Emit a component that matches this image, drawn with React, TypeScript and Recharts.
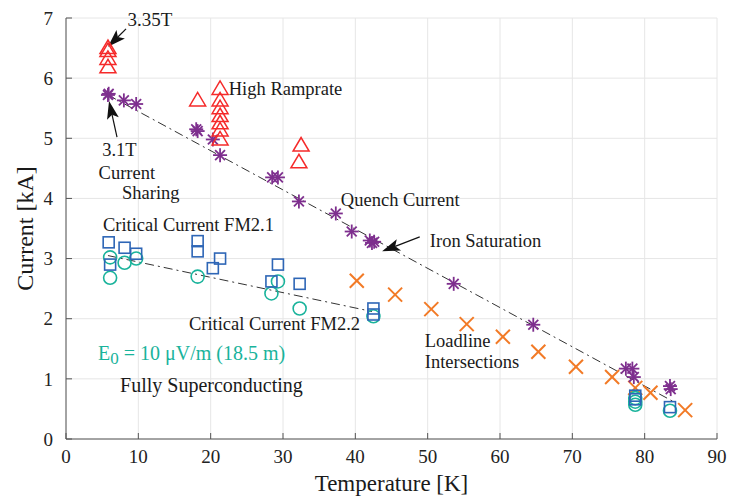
import React from "react";
import {
  ScatterChart,
  Scatter,
  XAxis,
  YAxis,
  CartesianGrid,
  ReferenceLine,
  ReferenceDot,
} from "recharts";

// ---- data ----
const xTicks = [0, 10, 20, 30, 40, 50, 60, 70, 80, 90];
const yTicks = [0, 1, 2, 3, 4, 5, 6, 7];

// Red triangles: 3.35T and high ramprate quenches
const triT = [5.8, 5.8, 5.8, 5.8, 21.3, 21.3, 21.3, 21.3, 21.3, 21.3, 21.3, 18.2, 32.5, 32.2];
const triI = [6.5, 6.45, 6.32, 6.18, 5.82, 5.63, 5.5, 5.37, 5.25, 5.13, 4.98, 5.63, 4.88, 4.6];

// Purple stars: quench current
const starT = [5.8, 5.9, 8.0, 9.7, 18.2, 18.0, 20.3, 21.3, 28.5, 29.3, 32.2, 37.3, 39.5, 42.0, 42.3, 42.6, 53.6, 64.6, 77.4, 78.3, 78.5, 83.5, 83.6];
const starI = [5.72, 5.74, 5.63, 5.57, 5.12, 5.15, 4.98, 4.72, 4.35, 4.35, 3.95, 3.75, 3.45, 3.3, 3.26, 3.28, 2.58, 1.9, 1.17, 1.17, 1.03, 0.88, 0.83];

// Blue squares: critical current FM2.1
const sqT = [5.9, 6.1, 8.1, 9.7, 18.2, 18.2, 20.3, 21.3, 28.4, 29.3, 32.3, 42.5, 42.5, 78.7, 78.7, 83.5];
const sqI = [3.27, 2.9, 3.18, 3.08, 3.29, 3.12, 2.84, 3.0, 2.62, 2.9, 2.58, 2.17, 2.07, 0.72, 0.66, 0.53];

// Teal circles: critical current FM2.2
const cirT = [6.1, 6.1, 8.1, 9.7, 18.2, 28.4, 29.3, 32.3, 42.5, 78.7, 78.7, 78.7, 83.5];
const cirI = [3.02, 2.68, 2.93, 3.0, 2.7, 2.42, 2.62, 2.17, 2.04, 0.68, 0.62, 0.57, 0.47];

// Orange crosses: loadline intersections
const crossT = [40.2, 45.5, 50.5, 55.4, 60.4, 65.3, 70.5, 75.5, 78.7, 80.8, 85.6];
const crossI = [2.63, 2.4, 2.16, 1.91, 1.7, 1.45, 1.2, 1.03, 0.85, 0.77, 0.48];

// Trend lines (dash-dot)
const quenchFitT = [5.8, 84];
const quenchFitI = [5.72, 0.62];
const critFitT = [5.8, 42.3];
const critFitI = [3.05, 2.12];

// Annotation arrows [tailT, tailI, tipT, tipI]
const arrows = [
  [8.3, 6.82, 5.8, 6.52],
  [7.05, 5.02, 5.95, 5.62],
  [48.9, 3.36, 43.7, 3.12],
];

const labels = [
  { text: "3.35T", t: 8.5, i: 6.86, size: 19 },
  { text: "High Ramprate", t: 22.5, i: 5.72, size: 18.5 },
  { text: "3.1T", t: 5.0, i: 4.71, size: 18.5 },
  { text: "Current", t: 4.5, i: 4.33, size: 18.5 },
  { text: "Sharing", t: 7.74, i: 3.99, size: 18.5 },
  { text: "Quench Current", t: 38.0, i: 3.88, size: 18.5 },
  { text: "Iron Saturation", t: 50.3, i: 3.19, size: 18.5 },
  { text: "Critical Current FM2.1", t: 5.1, i: 3.46, size: 18.5 },
  { text: "Critical Current FM2.2", t: 17.0, i: 1.81, size: 18.5 },
  { text: "Loadline", t: 49.6, i: 1.53, size: 18.5 },
  { text: "Intersections", t: 49.6, i: 1.18, size: 18.5 },
  { text: "Fully Superconducting", t: 7.47, i: 0.78, size: 20 },
];
const e0Label = { t: 4.42, i: 1.31 };

const zip = (a: number[], b: number[]) => a.map((x, k) => ({ x, y: b[k] }));

const FONT = "'Liberation Serif', 'Times New Roman', serif";
const RED = "#f52a2a";
const PURPLE = "#7e2f8e";
const BLUE = "#2e66b6";
const TEAL = "#19b39b";
const ORANGE = "#f27a26";

const Triangle = (p: any) => {
  const { cx, cy } = p;
  return (
    <polygon
      points={`${cx},${cy - 8} ${cx - 8},${cy + 5.5} ${cx + 8},${cy + 5.5}`}
      fill="none"
      stroke={RED}
      strokeWidth={1.5}
    />
  );
};
const Star = (p: any) => {
  const { cx, cy } = p;
  const r = 7;
  const d = r * 0.7071;
  return (
    <g stroke={PURPLE} strokeWidth={1.8}>
      <line x1={cx - r} y1={cy} x2={cx + r} y2={cy} />
      <line x1={cx} y1={cy - r} x2={cx} y2={cy + r} />
      <line x1={cx - d} y1={cy - d} x2={cx + d} y2={cy + d} />
      <line x1={cx - d} y1={cy + d} x2={cx + d} y2={cy - d} />
    </g>
  );
};
const Square = (p: any) => {
  const { cx, cy } = p;
  return <rect x={cx - 5.5} y={cy - 5.5} width={11} height={11} fill="none" stroke={BLUE} strokeWidth={1.6} />;
};
const Circ = (p: any) => {
  const { cx, cy } = p;
  return <circle cx={cx} cy={cy} r={6.5} fill="none" stroke={TEAL} strokeWidth={1.6} />;
};
const Cross = (p: any) => {
  const { cx, cy } = p;
  const r = 7;
  return (
    <g stroke={ORANGE} strokeWidth={2}>
      <line x1={cx - r} y1={cy - r} x2={cx + r} y2={cy + r} />
      <line x1={cx - r} y1={cy + r} x2={cx + r} y2={cy - r} />
    </g>
  );
};

const Arrow = (p: any) => {
  const { x1, y1, x2, y2 } = p;
  const dx = x2 - x1;
  const dy = y2 - y1;
  const len = Math.sqrt(dx * dx + dy * dy) || 1;
  const ux = dx / len;
  const uy = dy / len;
  const hl = 18;
  const hw = 6;
  const bx = x2 - ux * hl;
  const by = y2 - uy * hl;
  const nx = -uy;
  const ny = ux;
  return (
    <g>
      <line x1={x1} y1={y1} x2={bx + ux * 4} y2={by + uy * 4} stroke="#111" strokeWidth={1.2} />
      <polygon
        points={`${x2},${y2} ${bx + nx * hw},${by + ny * hw} ${bx + ux * 4},${by + uy * 4} ${bx - nx * hw},${by - ny * hw}`}
        fill="#111"
      />
    </g>
  );
};

const makeText = (text: string, size: number) => (p: any) => (
  <text x={p.cx} y={p.cy} fontFamily={FONT} fontSize={size} fill="#1a1a1a">
    {text}
  </text>
);

const E0Text = (p: any) => (
  <text x={p.cx} y={p.cy} fontFamily={FONT} fontSize={20} fill={TEAL}>
    <tspan>E</tspan>
    <tspan dy={4} fontSize={17}>0</tspan>
    <tspan dy={-4}> = 10 μV/m (18.5 m)</tspan>
  </text>
);

const YTitle = (p: any) => {
  const vb = p.viewBox || { x: 0, y: 18, width: 66, height: 421 };
  const cx = vb.x + 25;
  const cy = vb.y + vb.height / 2;
  return (
    <text
      x={cx}
      y={cy}
      transform={`rotate(-90, ${cx}, ${cy})`}
      textAnchor="middle"
      dominantBaseline="central"
      fontFamily={FONT}
      fontSize={24}
      fill="#1a1a1a"
    >
      Current [kA]
    </text>
  );
};

const XTitle = (p: any) => {
  const vb = p.viewBox || { x: 66, y: 439, width: 651, height: 58 };
  return (
    <text
      x={vb.x + vb.width / 2}
      y={vb.y + 44}
      textAnchor="middle"
      dominantBaseline="central"
      fontFamily={FONT}
      fontSize={23}
      fill="#1a1a1a"
    >
      Temperature [K]
    </text>
  );
};

export default function App() {
  const tickStyle = { fontFamily: FONT, fontSize: 19, fill: "#222" };
  return (
    <div style={{ position: "absolute", left: 0, top: 0, background: "#fff" }}>
      <ScatterChart width={733} height={497} margin={{ top: 18, right: 16, bottom: 0, left: 0 }}>
        <CartesianGrid stroke="#e6e6e6" strokeWidth={1} />
        <XAxis
          type="number"
          dataKey="x"
          domain={[0, 90]}
          ticks={xTicks}
          interval={0}
          height={58}
          tickSize={-6}
          tickMargin={17}
          stroke="#555"
          tick={tickStyle}
          label={<XTitle />}
        />
        <YAxis
          type="number"
          dataKey="y"
          domain={[0, 7]}
          ticks={yTicks}
          interval={0}
          width={66}
          tickSize={-6}
          tickMargin={19}
          stroke="#555"
          tick={tickStyle}
          label={<YTitle />}
        />
        <ReferenceLine
          segment={[
            { x: quenchFitT[0], y: quenchFitI[0] },
            { x: quenchFitT[1], y: quenchFitI[1] },
          ]}
          stroke="#333"
          strokeWidth={1}
          strokeDasharray="9 4 2 4"
          ifOverflow="visible"
        />
        <ReferenceLine
          segment={[
            { x: critFitT[0], y: critFitI[0] },
            { x: critFitT[1], y: critFitI[1] },
          ]}
          stroke="#333"
          strokeWidth={1}
          strokeDasharray="9 4 2 4"
          ifOverflow="visible"
        />
        <Scatter data={zip(crossT, crossI)} shape={Cross} isAnimationActive={false} />
        <Scatter data={zip(cirT, cirI)} shape={Circ} isAnimationActive={false} />
        <Scatter data={zip(sqT, sqI)} shape={Square} isAnimationActive={false} />
        <Scatter data={zip(starT, starI)} shape={Star} isAnimationActive={false} />
        <Scatter data={zip(triT, triI)} shape={Triangle} isAnimationActive={false} />
        {arrows.map((a, k) => (
          <ReferenceLine
            key={"ar" + k}
            segment={[
              { x: a[0], y: a[1] },
              { x: a[2], y: a[3] },
            ]}
            ifOverflow="visible"
            shape={Arrow}
          />
        ))}
        {labels.map((l, k) => (
          <ReferenceDot key={"lb" + k} x={l.t} y={l.i} r={0} ifOverflow="visible" shape={makeText(l.text, l.size)} />
        ))}
        <ReferenceDot x={e0Label.t} y={e0Label.i} r={0} ifOverflow="visible" shape={E0Text} />
      </ScatterChart>
    </div>
  );
}
